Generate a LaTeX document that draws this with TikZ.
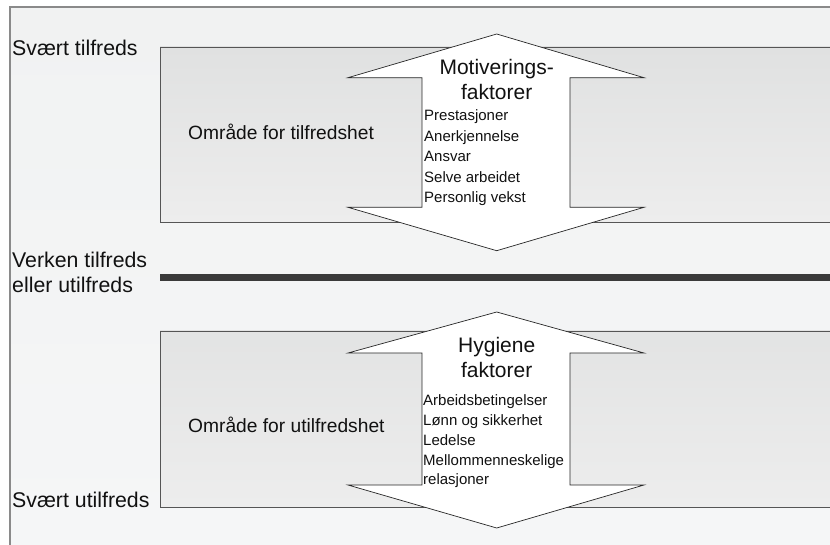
\documentclass[tikz,border=0pt]{standalone}
\usepackage{fontspec}
\setmainfont{Liberation Sans}
\definecolor{panelA}{HTML}{F1F2F2}
\definecolor{panelB}{HTML}{F5F6F7}
\definecolor{boxA}{HTML}{E0E1E1}
\definecolor{boxB}{HTML}{EDEDED}
\definecolor{edge}{HTML}{555555}
\definecolor{outer}{HTML}{8A8A8A}
\definecolor{txt}{HTML}{111111}
\definecolor{bar}{HTML}{3A3A3A}
\tikzset{
  lbl/.style={anchor=base west, inner sep=0pt, font=\fontsize{21.3}{25}\selectfont, text=txt},
  area/.style={anchor=base west, inner sep=0pt, font=\fontsize{19.2}{23}\selectfont, text=txt},
  ttl/.style={anchor=base, inner sep=0pt, font=\fontsize{21}{25}\selectfont, text=txt},
  item/.style={anchor=base west, inner sep=0pt, font=\fontsize{15}{18}\selectfont, text=txt},
  zonebox/.style={draw=edge, line width=0.9pt, top color=boxA, bottom color=boxB},
  dblarrow/.style={draw=black!85, line width=0.7pt, fill=white, line join=miter}
}
\begin{document}
\begin{tikzpicture}[x=1pt,y=-1pt]
\useasboundingbox (0,0) rectangle (830,545);
% panel background
\shade[top color=panelA, bottom color=panelB] (10,7) rectangle (830,545);
\draw[outer, line width=1.4pt] (10,545) -- (10,7) -- (830,7);
% zone boxes
\path[zonebox] (160,47) rectangle (831,222);
\path[zonebox, top color=boxA!80!boxB] (160,331) rectangle (831,507);
% neutral bar
\fill[bar] (160,274) rectangle (830,281);
% top double arrow
\path[dblarrow] (348,77.7) -- (496.7,34) -- (644,77.7) -- (570,77.7) -- (570,207.3)
  -- (644,207.3) -- (496.7,250.7) -- (348,207.3) -- (422,207.3) -- (422,77.7) -- cycle;
% bottom double arrow
\path[dblarrow] (348,353) -- (496.7,312) -- (644,353) -- (570,353) -- (570,485)
  -- (644,485) -- (496.7,528) -- (348,485) -- (422,485) -- (422,353) -- cycle;
% left labels
\node[lbl] (vt) at (12,56) {Svært tilfreds};
\node[lbl] (vk1) at (12,268) {Verken tilfreds};
\node[lbl] (vk2) at (12,292.7) {eller utilfreds};
\node[lbl] (vu) at (12,507.3) {Svært utilfreds};
% area labels
\node[area] (at) at (188,139.3) {Område for tilfredshet};
\node[area] (au) at (188,432.3) {Område for utilfredshet};
% titles
\node[ttl] (m1) at (496.7,75) {Motiverings-};
\node[ttl] (m2) at (496.7,99.5) {faktorer};
\node[ttl] (h1) at (496.7,352.3) {Hygiene};
\node[ttl] (h2) at (496.7,377.3) {faktorer};
% motivation items
\node[item] (p1) at (424,121) {Prestasjoner};
\node[item] (p2) at (424,141.5) {Anerkjennelse};
\node[item] (p3) at (424,161.8) {Ansvar};
\node[item] (p4) at (424,182.2) {Selve arbeidet};
\node[item] (p5) at (424,202.6) {Personlig vekst};
% hygiene items
\node[item] (q1) at (423,405) {Arbeidsbetingelser};
\node[item] (q2) at (423,425.5) {Lønn og sikkerhet};
\node[item] (q3) at (423,445.7) {Ledelse};
\node[item] (q4) at (423,465.7) {Mellommenneskelige};
\node[item] (q5) at (423,484.5) {relasjoner};
\end{tikzpicture}
\end{document}
